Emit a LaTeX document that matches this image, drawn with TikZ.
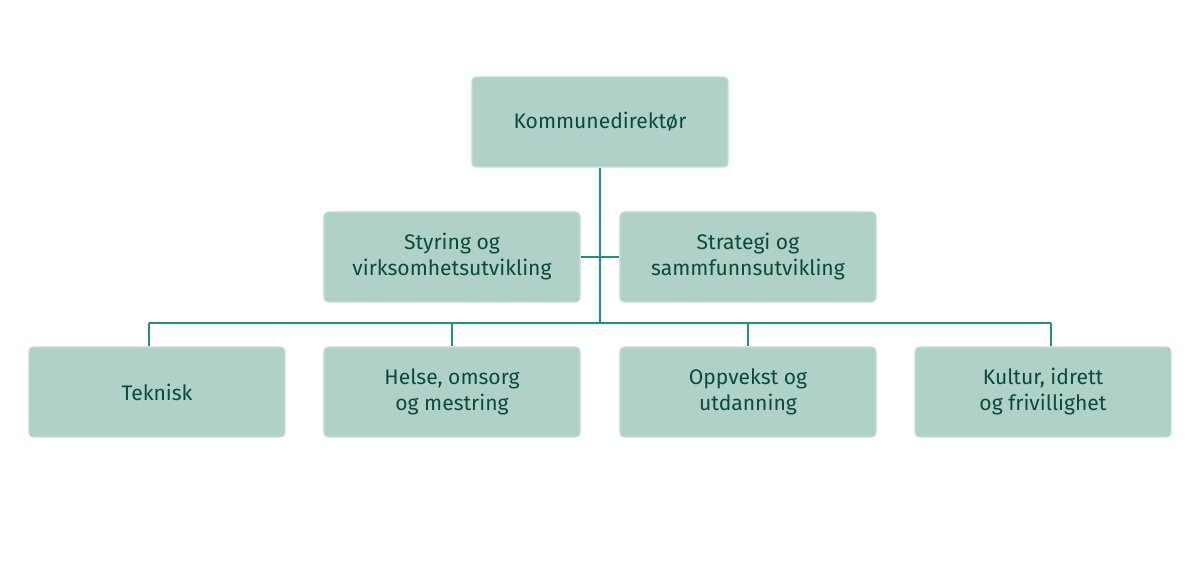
\documentclass[tikz,border=0pt]{standalone}
\usepackage{fontspec}
\setmainfont{Fira Sans}
\usetikzlibrary{positioning,calc}
\definecolor{boxfill}{HTML}{B0D1C8}
\definecolor{boxline}{HTML}{C4DDD6}
\definecolor{boxtext}{HTML}{0B4A3C}
\definecolor{wire}{HTML}{1A9480}

\begin{document}
\begin{tikzpicture}[x=0.025cm,y=-0.025cm]
  \tikzstyle{unit}=[rectangle, rounded corners=3pt, draw=boxline, fill=boxfill, thick, minimum width=6.4cm, minimum height=2.25cm, font=\fontsize{15}{18.5}\selectfont, text=boxtext, align=center]
  \tikzstyle{link}=[draw=wire, line width=0.9pt]

  \useasboundingbox (0,0) rectangle (1200,565);

  \node[unit] (dir) at (600,122) {Kommunedirektør};
  \node[unit] (sty) at (452,257) {Styring og\\virksomhetsutvikling};
  \node[unit] (str) at (748,257) {Strategi og\\sammfunnsutvikling};
  \node[unit] (tek) at (157,392) {Teknisk};
  \node[unit] (hel) at (452,392) {Helse, omsorg\\og mestring};
  \node[unit] (opp) at (748,392) {Oppvekst og\\utdanning};
  \node[unit] (kul) at (1043,392) {Kultur, idrett\\og frivillighet};

  % Linjer
  \coordinate (bus) at (600,323);
  \draw[link] (dir.south) -- (bus);
  \draw[link] (sty.east) -- (str.west);
  \draw[link] (bus -| tek.north) ++(-8,0) coordinate (bl) -- ($(bus -| kul.north)+(8,0)$) coordinate (br);
  \draw[link] (bl) -- (bl |- tek.north);
  \draw[link] (br) -- (br |- kul.north);
  \draw[link] (bus -| hel.north) -- (hel.north);
  \draw[link] (bus -| opp.north) -- (opp.north);
\end{tikzpicture}
\end{document}
